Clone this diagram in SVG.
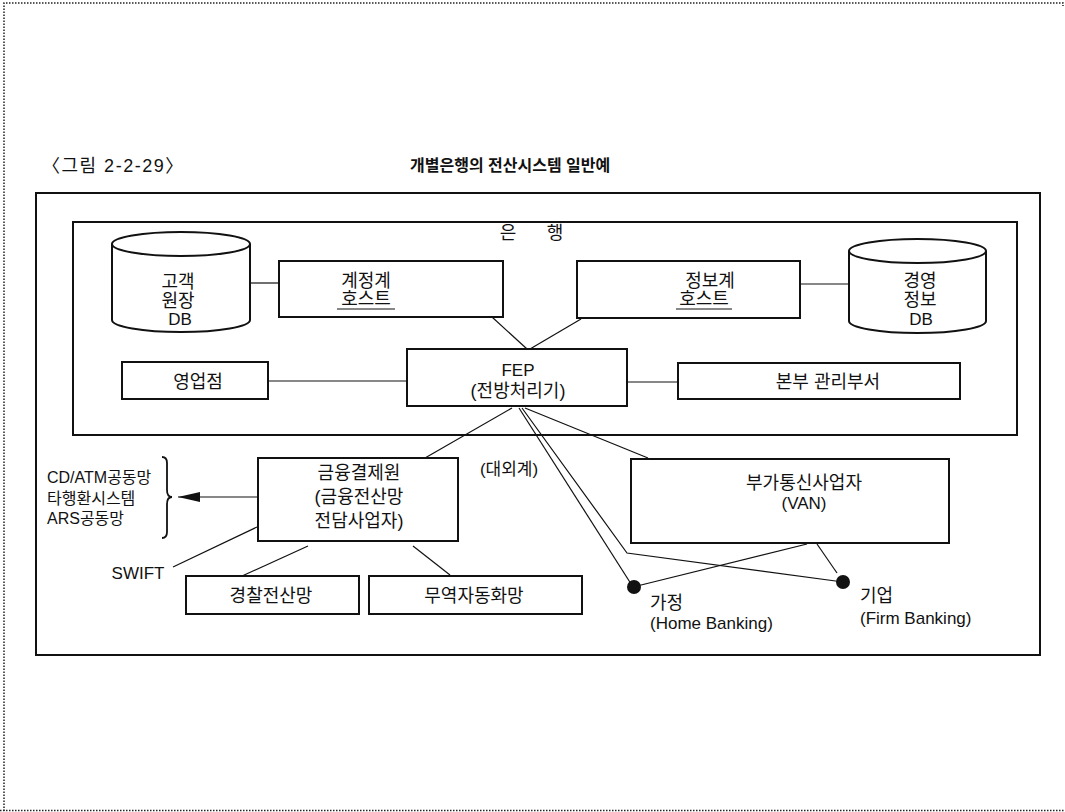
<svg xmlns="http://www.w3.org/2000/svg" width="1065" height="812" viewBox="0 0 1065 812">
<style>
text{font-family:"Liberation Sans","Noto Sans CJK KR",sans-serif;fill:#111;font-size:18px}
.c{text-anchor:middle}
.box{fill:#fff;stroke:#111;stroke-width:2}
.frame{fill:none;stroke:#111;stroke-width:2}
.ln{fill:none;stroke:#111;stroke-width:1.2}
.page{fill:none;stroke:#222;stroke-width:1.5;stroke-dasharray:1.5 1.5}
.dot{fill:#111}
.lat{font-size:17px}
</style>
<defs>
<marker id="ah" viewBox="0 0 22 10" refX="22" refY="5" markerWidth="22" markerHeight="10" markerUnits="userSpaceOnUse" orient="auto">
<path d="M0,0 L22,5 L0,10 Z" fill="#111"/>
</marker>
</defs>
<rect width="1065" height="812" fill="#fff"/>
<g id="page-border">
<path class="page" d="M4,811 V3 H1063 V6"/>
<path class="page" d="M0,810.5 H1065"/>
</g>
<g id="titles">
<text x="42" y="172" style="font-size:18px;letter-spacing:1.5px">〈그림 2-2-29〉</text>
<text x="410" y="171" style="font-size:16px;font-weight:bold">개별은행의 전산시스템 일반예</text>
</g>
<g id="frames">
<rect class="frame" x="36" y="193" width="1004" height="462"/>
<rect class="frame" x="73" y="222" width="944" height="213"/>
<text x="508" y="239" class="c">은</text>
<text x="555" y="239" class="c">행</text>
</g>
<g id="connectors">
<line class="ln" x1="250" y1="283" x2="279" y2="283"/>
<line class="ln" x1="800" y1="284" x2="849" y2="284"/>
<line class="ln" x1="492" y1="317" x2="527" y2="349"/>
<line class="ln" x1="581" y1="319" x2="530" y2="349"/>
<line class="ln" x1="268" y1="381" x2="407" y2="381"/>
<line class="ln" x1="627" y1="382" x2="678" y2="382"/>
<line class="ln" x1="512" y1="408" x2="425" y2="458"/>
<line class="ln" x1="525" y1="408" x2="648" y2="458"/>
<line class="ln" x1="519" y1="408" x2="633" y2="587"/>
<polyline class="ln" points="522,408 627,553 843,582"/>
<line class="ln" x1="633" y1="587" x2="807" y2="544"/>
<line class="ln" x1="817" y1="544" x2="837" y2="573"/>
<line class="ln" x1="258" y1="497" x2="178" y2="497" marker-end="url(#ah)"/>
<line class="ln" x1="257" y1="527" x2="173" y2="567"/>
<line class="ln" x1="308" y1="546" x2="242" y2="576"/>
<line class="ln" x1="413" y1="546" x2="450" y2="575"/>
<path class="ln" style="stroke-width:1.8" d="M162,457 Q167,457 167,463 L167,490 Q167,497 172,497 Q167,497 167,504 L167,532 Q167,538 162,538"/>
</g>
<g id="db-customer">
<path class="box" d="M112,244 V320 A69,12 0 0 0 250,320 V244"/>
<ellipse class="box" cx="181" cy="244" rx="69" ry="12"/>
<text x="178" y="288" class="c">고객</text>
<text x="178" y="307" class="c">원장</text>
<text x="180" y="325" class="c lat">DB</text>
</g>
<g id="host-account">
<rect class="box" x="279" y="261" width="224" height="56"/>
<text x="366" y="287" class="c">계정계</text>
<text x="366" y="305" class="c">호스트</text>
<line class="ln" x1="337" y1="309" x2="395" y2="309"/>
</g>
<g id="host-info">
<rect class="box" x="577" y="261" width="223" height="57"/>
<text x="710" y="287" class="c">정보계</text>
<text x="704" y="305" class="c">호스트</text>
<line class="ln" x1="676" y1="309" x2="732" y2="309"/>
</g>
<g id="db-management">
<path class="box" d="M849,251 V321 A68.5,12 0 0 0 986,321 V251"/>
<ellipse class="box" cx="917.5" cy="251" rx="68.5" ry="12"/>
<text x="920" y="287" class="c">경영</text>
<text x="920" y="306" class="c">정보</text>
<text x="921" y="325" class="c lat">DB</text>
</g>
<g id="branch">
<rect class="box" x="122" y="362" width="146" height="37"/>
<text x="198" y="388" class="c">영업점</text>
</g>
<g id="fep">
<rect class="box" x="407" y="349" width="220" height="57"/>
<text x="518" y="376" class="c lat">FEP</text>
<text x="518" y="397" class="c">(전방처리기)</text>
</g>
<g id="hq">
<rect class="box" x="678" y="363" width="282" height="36"/>
<text x="828" y="388" class="c">본부 관리부서</text>
</g>
<g id="external-label">
<text x="509" y="475" class="c" style="font-size:17px">(대외계)</text>
</g>
<g id="kftc">
<rect class="box" x="258" y="458" width="200" height="83"/>
<text x="359" y="479" class="c">금융결제원</text>
<text x="359" y="503" class="c">(금융전산망</text>
<text x="359" y="527" class="c">전담사업자)</text>
</g>
<g id="networks">
<text x="47" y="483" style="font-size:16px">CD/ATM공동망</text>
<text x="47" y="504" style="font-size:16px">타행환시스템</text>
<text x="47" y="524" style="font-size:16px">ARS공동망</text>
</g>
<g id="swift">
<text x="138" y="579" class="c lat">SWIFT</text>
</g>
<g id="police">
<rect class="box" x="186" y="576" width="173" height="38"/>
<text x="271" y="602" class="c">경찰전산망</text>
</g>
<g id="trade">
<rect class="box" x="369" y="576" width="213" height="38"/>
<text x="474" y="602" class="c">무역자동화망</text>
</g>
<g id="van">
<rect class="box" x="631" y="459" width="318" height="84"/>
<text x="804" y="489" class="c">부가통신사업자</text>
<text x="804" y="509" class="c lat">(VAN)</text>
</g>
<g id="home">
<circle class="dot" cx="634" cy="587" r="7"/>
<text x="650" y="609">가정</text>
<text x="650" y="629" class="lat">(Home Banking)</text>
</g>
<g id="firm">
<circle class="dot" cx="843" cy="582" r="7"/>
<text x="860" y="602">기업</text>
<text x="860" y="624" class="lat">(Firm Banking)</text>
</g>
</svg>
